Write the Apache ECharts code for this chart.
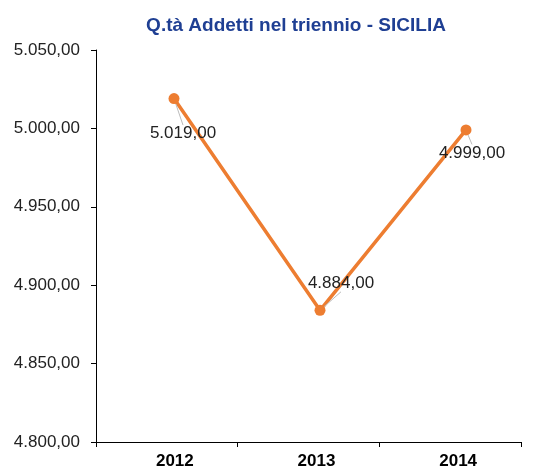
<!DOCTYPE html>
<html style="height:100%;">
<head>
    <meta charset="utf-8">
    <script src="https://cdn.jsdelivr.net/npm/echarts@6/dist/echarts.min.js"></script>
</head>
<body style="height:100%;margin:0;">
    <div id="main" style="width:541px;height:470px;"></div>
</body>
</html>
<script>
    // dati
    var anni = ['2012', '2013', '2014'];
    var addetti = [5019, 4884, 4999];
    var etichetteY = [4800, 4850, 4900, 4950, 5000, 5050];

    // formato italiano 5.019,00
    function fmt(v) {
        var s = Math.round(v).toString();
        return s.replace(/\B(?=(\d{3})+(?!\d))/g, '.') + ',00';
    }

    // spostamento etichette (come nell'originale)
    var spost = [[9, 35], [21, -27], [6, 23]];

    var myChart = echarts.init(document.getElementById('main'));
    var option = {
        animation: false,
        title: {
            text: 'Q.tà Addetti nel triennio - SICILIA',
            left: 291,
            textAlign: 'center',
            top: 11,
            textStyle: {color: '#1F3F93', fontSize: 19, fontWeight: 'bold', fontFamily: 'Liberation Sans'}
        },
        grid: [
            {left: 96, right: 20, top: 50, bottom: 28},
            {left: 101, right: 2, top: 50, bottom: 28}
        ],
        xAxis: [
            {
                type: 'category', gridIndex: 0, data: anni,
                axisLine: {lineStyle: {color: '#000', width: 1}},
                axisTick: {show: true, length: 5, lineStyle: {color: '#000'}},
                axisLabel: {color: '#000', fontSize: 17, fontWeight: 'bold', fontFamily: 'Liberation Sans', margin: 11, padding: [0, 0, 0, 16]}
            },
            {type: 'category', gridIndex: 1, data: anni, show: false}
        ],
        yAxis: [
            {
                type: 'value', gridIndex: 0,
                min: etichetteY[0], max: etichetteY[etichetteY.length - 1], interval: 50,
                axisLine: {show: true, lineStyle: {color: '#000', width: 1}},
                axisTick: {show: true, length: 5, lineStyle: {color: '#000'}},
                splitLine: {show: false},
                axisLabel: {color: '#222', fontSize: 17, fontFamily: 'Liberation Sans', margin: 16, formatter: fmt}
            },
            {
                type: 'value', gridIndex: 1, show: false,
                min: etichetteY[0], max: etichetteY[etichetteY.length - 1], interval: 50
            }
        ],
        series: [
            {
                type: 'line',
                xAxisIndex: 1, yAxisIndex: 1,
                data: addetti,
                symbol: 'circle',
                symbolSize: 11,
                itemStyle: {color: '#ED7D31'},
                lineStyle: {color: '#ED7D31', width: 3.5},
                label: {
                    show: true,
                    position: 'inside',
                    color: '#222',
                    fontSize: 17,
                    fontFamily: 'Liberation Sans',
                    formatter: function (p) { return fmt(p.value); }
                },
                labelLine: {show: true, lineStyle: {color: '#bbb', width: 1}},
                labelLayout: function (p) {
                    var o = spost[p.dataIndex];
                    return {dx: o[0], dy: o[1]};
                }
            }
        ]
    };
    myChart.setOption(option);
</script>
